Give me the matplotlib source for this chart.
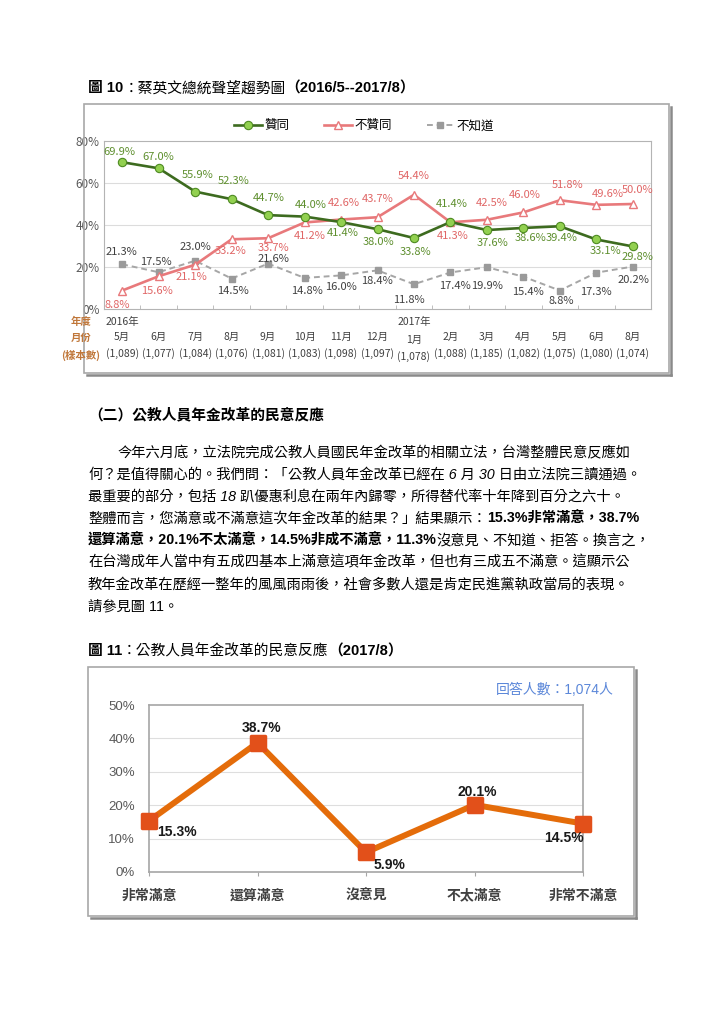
import matplotlib
matplotlib.use("Agg")
import matplotlib.pyplot as plt
from matplotlib.patches import Rectangle
from matplotlib.lines import Line2D
from matplotlib.markers import MarkerStyle

W, H = 724, 1024
CJK = "Noto Sans CJK TC"
LAT = "Liberation Sans"

# ---- figure 10 data: approval trend 2016/5 - 2017/8
years = ["2016年", "", "", "", "", "", "", "", "2017年", "", "", "", "", "", ""]
months = ["5月", "6月", "7月", "8月", "9月", "10月", "11月", "12月",
          "1月", "2月", "3月", "4月", "5月", "6月", "8月"]
samples = ["(1,089)", "(1,077)", "(1,084)", "(1,076)", "(1,081)", "(1,083)", "(1,098)", "(1,097)",
           "(1,078)", "(1,088)", "(1,185)", "(1,082)", "(1,075)", "(1,080)", "(1,074)"]
approve = [69.9, 67.0, 55.9, 52.3, 44.7, 44.0, 41.4, 38.0, 33.8, 41.4, 37.6, 38.6, 39.4, 33.1, 29.8]
disapprove = [8.8, 15.6, 21.1, 33.2, 33.7, 41.2, 42.6, 43.7, 54.4, 41.3, 42.5, 46.0, 51.8, 49.6, 50.0]
unknown = [21.3, 17.5, 23.0, 14.5, 21.6, 14.8, 16.0, 18.4, 11.8, 17.4, 19.9, 15.4, 8.8, 17.3, 20.2]

# ---- figure 11 data: pension reform reaction
pension_cats = ["非常滿意", "還算滿意", "沒意見", "不太滿意", "非常不滿意"]
pension_vals = [15.3, 38.7, 5.9, 20.1, 14.5]

# label offsets in pixels (dx, dy up)
approve_off = [(-3, 10), (0, 11), (2, 17), (2, 18), (1, 17), (6, 12), (2, -11), (1, -13),
               (2, -14), (1, 18), (6, -13), (7, -10), (2, -12), (9, -12), (5, -11)]
disapprove_off = [(-5, -14), (-2, -15), (-4, -12), (-1, -12), (5, -10), (5, -14), (3, 17), (0, 18),
                  (0, 19), (2, -14), (5, 17), (1, 17), (8, 15), (12, 11), (5, 14)]
unknown_off = [(-1, 12), (-3, 10), (0, 14), (1, -12), (5, 5), (2, -13), (0, -12), (-1, -11),
               (-5, -16), (5, -14), (0, -19), (5, -15), (1, -10), (0, -19), (1, -13)]
pension_off = [((8, -11), "left"), ((4, 15), "center"), ((8, -13), "left"),
               ((3, 13), "center"), ((1, -14), "right")]


def fx(px):
    return px / W


def fy(py):
    return 1 - py / H


fig = plt.figure(figsize=(W / 100, H / 100), dpi=100)
fig.patch.set_facecolor("white")
rend = fig.canvas.get_renderer()


def runs(x, y, parts, size):
    # draw text pieces one after another on a line
    for s, kw in parts:
        t = fig.text(fx(x), fy(y), s, fontsize=size, va="center", ha="left",
                     family=[LAT, CJK], color="black", **kw)
        x += t.get_window_extent(rend).width
    return x


def frame(x0, y0, x1, y1):
    fig.patches.append(Rectangle((fx(x0), fy(y1)), (x1 - x0) / W, (y1 - y0) / H,
                                 transform=fig.transFigure, fill=False, ec="#a8a8a8", lw=1.2))
    fig.lines.append(Line2D([fx(x1 + 1.5), fx(x1 + 1.5)], [fy(y0 + 3), fy(y1 + 1.5)],
                            transform=fig.transFigure, color="#8a8a8a", lw=1.8))
    fig.lines.append(Line2D([fx(x0 + 3), fx(x1 + 1.5)], [fy(y1 + 1.5), fy(y1 + 1.5)],
                            transform=fig.transFigure, color="#8a8a8a", lw=1.8))


B = {"weight": "bold"}
N = {}
I = {"style": "italic"}

# ---- titles and body text
runs(88, 88, [("圖 10", B), ("：蔡英文總統聲望趨勢圖", N), ("（2016/5--2017/8）", B)], 10.6)
runs(88, 415, [("（二）公教人員年金改革的民意反應", B)], 10.6)

body = [
    (118, [("今年六月底，立法院完成公教人員國民年金改革的相關立法，台灣整體民意反應如", N)]),
    (88, [("何？是值得關心的。我們問：「", N), ("公教人員年金改革已經在 6 月 30 日由立法院三讀通過。", I)]),
    (88, [("最重要的部分，包括 18 趴優惠利息在兩年內歸零，所得替代率十年降到百分之六十。", I)]),
    (88, [("整體而言，您滿意或不滿意這次年金改革的結果？", I), ("」結果顯示：", N),
          ("15.3%非常滿意，38.7%", B)]),
    (88, [("還算滿意，20.1%不太滿意，14.5%非成不滿意，11.3%", B), ("沒意見、不知道、拒答。換言之，", N)]),
    (88, [("在台灣成年人當中有五成四基本上滿意這項年金改革，但也有三成五不滿意。這顯示公", N)]),
    (88, [("教年金改革在歷經一整年的風風雨雨後，社會多數人還是肯定民進黨執政當局的表現。", N)]),
    (88, [("請參見圖 11。", N)]),
]
for k, (x0, parts) in enumerate(body):
    runs(x0, 453 + 21.9 * k, parts, 10.3)

runs(88, 651, [("圖 11", B), ("：公教人員年金改革的民意反應", N), ("（2017/8）", B)], 10.6)

# ---- figure 10 chart
frame(84, 104, 669, 373)
ax1 = fig.add_axes([fx(104), fy(309), (651 - 104) / W, (309 - 141) / H])
xs = list(range(len(months)))
ax1.plot(xs, unknown, color="#a6a6a6", lw=1.4, ls=(0, (3, 2)), marker="s", ms=4.5,
         mfc="#9a9a9a", mec="#9a9a9a", label="不知道", zorder=2)
ax1.plot(xs, disapprove, color="#e8797b", lw=1.9, marker="^", ms=6, mfc="white",
         mec="#e8797b", mew=1, label="不贊同", zorder=3)
ax1.plot(xs, approve, color="#3d6b1f", lw=1.9, marker="o", ms=6, mfc="#92d050",
         mec="#4e8a22", mew=0.8, label="贊同", zorder=4)
ax1.set_xlim(-0.5, 14.5)
ax1.set_ylim(0, 80)
for v in (20, 40, 60):
    ax1.axhline(v, color="#dcdcdc", lw=0.8, zorder=0)
for s in ax1.spines.values():
    s.set_edgecolor("#b4b4b4")
    s.set_linewidth(0.8)
ax1.set_yticks([0, 20, 40, 60, 80])
ax1.set_yticklabels([f"{v}%" for v in (0, 20, 40, 60, 80)], family=CJK, fontsize=8.5, color="#595959")
ax1.tick_params(axis="y", length=0, pad=3)
ax1.set_xticks([])
ax1.set_xticks([i + 0.5 for i in range(14)], minor=True)
ax1.tick_params(axis="x", which="minor", direction="in", length=3, color="#b4b4b4")
ax1.tick_params(axis="x", which="minor", labelbottom=False)

for vals, offs, col in ((approve, approve_off, "#5e8f2e"),
                        (disapprove, disapprove_off, "#e06666"),
                        (unknown, unknown_off, "#404040")):
    for i, v in enumerate(vals):
        ax1.annotate(f"{v:.1f}%", (i, v), xytext=offs[i], textcoords="offset pixels",
                     ha="center", va="center", fontsize=8, color=col, family=CJK,
                     zorder=6, annotation_clip=False)

for i in xs:
    drop = 3 if years[i] == "2017年" else 0
    for txt, dy in ((years[i], -13), (months[i], -28 - drop), (samples[i], -45 - drop)):
        if txt:
            ax1.annotate(txt, (i, 0), xycoords=("data", "axes fraction"), xytext=(0, dy),
                         textcoords="offset pixels", ha="center", va="center",
                         fontsize=7.5, color="#404040", family=CJK, annotation_clip=False)
for txt, y in (("年度", 322), ("月份", 338), ("(樣本數)", 355)):
    fig.text(fx(81), fy(y), txt, ha="center", va="center", fontsize=7.5,
             color="#c0773a", family=CJK, weight="bold")

h1 = ax1.get_legend_handles_labels()
order = [2, 1, 0]
ax1.legend([h1[0][k] for k in order], [h1[1][k] for k in order], loc="center",
           bbox_to_anchor=(fx(364), fy(126)), bbox_transform=fig.transFigure, ncol=3,
           frameon=False, prop={"family": CJK, "size": 9}, handlelength=2.2,
           handletextpad=0.2, columnspacing=2.8)

# ---- figure 11 chart
frame(88, 667, 634, 916)
ax2 = fig.add_axes([fx(149), fy(872), (583 - 149) / W, (872 - 705) / H])
px = list(range(len(pension_cats)))
ax2.plot(px, pension_vals, color="#e46c0a", lw=4.3, zorder=3, clip_on=False,
         solid_joinstyle="round")
ax2.plot(px, pension_vals, ls="none", marker=MarkerStyle("s", joinstyle="round"), ms=10,
         mfc="#e2501a", mec="#e2501a", mew=2.5, zorder=4, clip_on=False)
ax2.set_xlim(0, 4)
ax2.set_ylim(0, 50)
for v in (10, 20, 30, 40):
    ax2.axhline(v, color="#dedede", lw=0.8, zorder=0)
for s in ax2.spines.values():
    s.set_edgecolor("#a6a6a6")
    s.set_linewidth(1.2)
ax2.set_yticks([0, 10, 20, 30, 40, 50])
ax2.set_yticklabels([f"{v}%" for v in (0, 10, 20, 30, 40, 50)], family=LAT,
                    fontsize=9.5, color="#595959")
ax2.tick_params(axis="y", length=0, pad=10)
ax2.set_xticks(px)
ax2.set_xticklabels(pension_cats, family=[LAT, CJK], fontsize=10, weight="bold", color="#404040")
ax2.tick_params(axis="x", direction="out", length=3, color="#a6a6a6", pad=9)
for i, v in enumerate(pension_vals):
    off, ha = pension_off[i]
    ax2.annotate(f"{v:.1f}%", (i, v), xytext=off, textcoords="offset pixels", ha=ha,
                 va="center", fontsize=10, weight="bold", color="#1a1a1a", family=LAT,
                 zorder=6, annotation_clip=False)
fig.text(fx(614), fy(690), "回答人數：1,074人", ha="right", va="center", fontsize=10,
         color="#5b87d9", family=[LAT, CJK])

fig.savefig("out.png", dpi=100)
